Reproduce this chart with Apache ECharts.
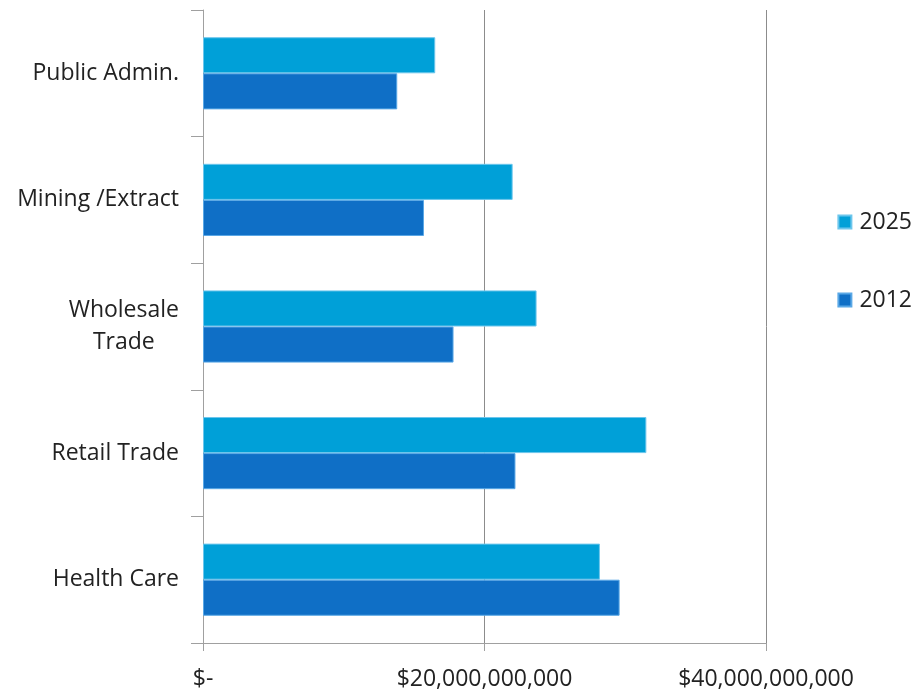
<!DOCTYPE html>
<html><head><meta charset="utf-8">
<script src="https://cdn.jsdelivr.net/npm/echarts@6/dist/echarts.min.js"></script>
<style>html,body{margin:0;padding:0;background:#fff}#c{width:915px;height:694px}</style>
</head><body><div id="c"></div>
<script>
const categories = ['Public Admin.', 'Mining /Extract', 'Wholesale Trade', 'Retail Trade', 'Health Care'];
const values2025 = [16.5e9, 22.0e9, 23.7e9, 31.5e9, 28.2e9];
const values2012 = [13.8e9, 15.7e9, 17.8e9, 22.2e9, 29.6e9];
const xTicks = {0: '$-', 20000000000: '$20,000,000,000', 40000000000: '$40,000,000,000'};

const FONT = 'Open Sans';
const FS = 23;
const chart = echarts.init(document.getElementById('c'));
chart.setOption({
  animation: false,
  textStyle: {fontFamily: FONT},
  grid: {left: 203, right: 149, top: 10, bottom: 51, containLabel: false},
  legend: {
    orient: 'vertical', right: -2, top: 202, itemGap: 48,
    icon: 'rect', itemWidth: 13, itemHeight: 13,
    textStyle: {fontSize: FS, color: '#222', fontFamily: FONT, lineHeight: 30, padding: [0, 0, 0, 3]},
    data: ['2025', '2012']
  },
  xAxis: {
    type: 'value', min: 0, max: 40e9, interval: 20e9,
    axisLine: {show: true, lineStyle: {color: '#a0a0a0', width: 1}},
    axisTick: {show: true, length: 8, lineStyle: {color: '#a0a0a0'}},
    splitLine: {show: true, lineStyle: {color: '#8c8c8c', width: 1}},
    axisLabel: {fontSize: FS, color: '#222', margin: 25, formatter: v => xTicks[v] ?? '', fontFamily: FONT}
  },
  yAxis: {
    type: 'category', data: categories, inverse: true,
    axisLine: {show: true, lineStyle: {color: '#a0a0a0', width: 1}},
    axisTick: {show: true, length: 12, lineStyle: {color: '#a0a0a0'}},
    axisLabel: {
      fontSize: FS, color: '#222', margin: 24, lineHeight: 32, fontFamily: FONT,
      formatter: v => v.startsWith('Wholesale') ? '{c|Wholesale}\n{c|Trade}' : v,
      rich: {c: {align: 'center', fontSize: FS, color: '#222', lineHeight: 32, fontFamily: FONT}}
    }
  },
  series: [
    {name: '2025', type: 'bar', data: values2025, barGap: '0%', barCategoryGap: '43%',
     itemStyle: {color: '#00A0D8', borderColor: '#6cc6ec', borderWidth: 1}},
    {name: '2012', type: 'bar', data: values2012, barGap: '0%', barCategoryGap: '43%',
     itemStyle: {color: '#0F6FC6', borderColor: '#5aa8e6', borderWidth: 1}}
  ]
});
</script></body></html>
